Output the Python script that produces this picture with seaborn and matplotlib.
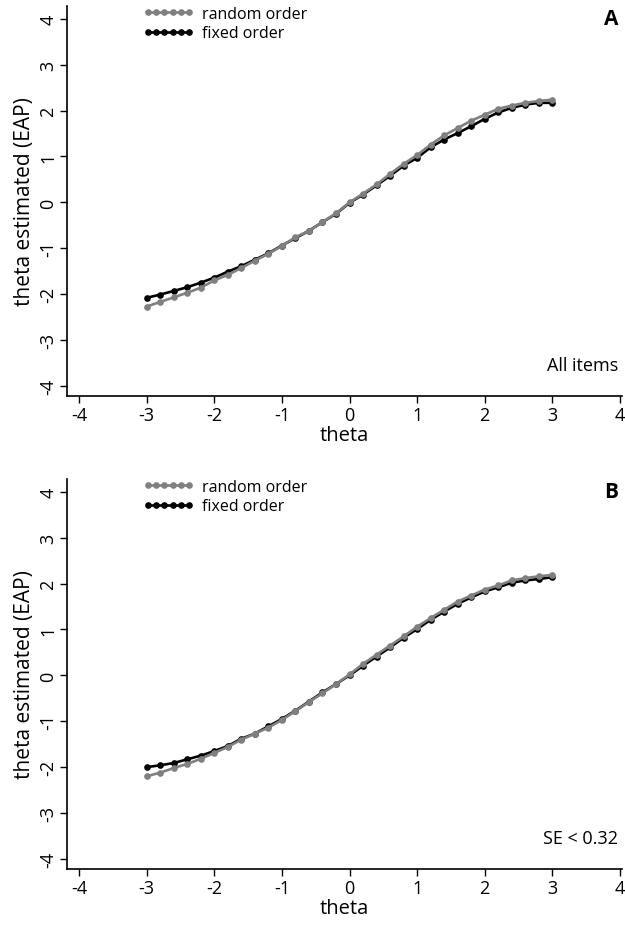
import numpy as np
import pandas as pd
import matplotlib
matplotlib.use("Agg")
import matplotlib.pyplot as plt
import seaborn as sns

theta = [round(-3 + 0.2 * i, 1) for i in range(31)]

a_random = [-2.27, -2.17, -2.07, -1.97, -1.86, -1.70, -1.58, -1.43, -1.27, -1.12,
            -0.95, -0.76, -0.62, -0.43, -0.24, 0.00, 0.19, 0.39, 0.62, 0.84,
            1.03, 1.26, 1.46, 1.62, 1.78, 1.91, 2.04, 2.11, 2.17, 2.21, 2.24]
a_fixed = [-2.08, -2.01, -1.93, -1.85, -1.75, -1.64, -1.51, -1.39, -1.25, -1.11,
           -0.94, -0.78, -0.62, -0.43, -0.25, -0.01, 0.17, 0.37, 0.58, 0.80,
           0.97, 1.20, 1.37, 1.51, 1.66, 1.82, 1.96, 2.06, 2.13, 2.17, 2.17]
b_random = [-2.20, -2.12, -2.02, -1.93, -1.82, -1.69, -1.56, -1.40, -1.27, -1.14,
            -0.97, -0.78, -0.58, -0.39, -0.19, 0.02, 0.25, 0.45, 0.65, 0.85,
            1.06, 1.25, 1.43, 1.61, 1.74, 1.87, 1.96, 2.07, 2.12, 2.16, 2.19]
b_fixed = [-2.00, -1.96, -1.91, -1.83, -1.75, -1.65, -1.54, -1.38, -1.27, -1.11,
           -0.95, -0.77, -0.57, -0.37, -0.19, 0.00, 0.21, 0.41, 0.61, 0.82,
           1.01, 1.21, 1.39, 1.56, 1.70, 1.83, 1.92, 2.02, 2.07, 2.10, 2.14]

series_labels = ["random order", "fixed order"]
panel_letters = ["A", "B"]
panel_notes = ["All items", "SE < 0.32"]
xticks = [-4, -3, -2, -1, 0, 1, 2, 3, 4]
yticks = [-4, -3, -2, -1, 0, 1, 2, 3, 4]

sns.set_style("ticks")
plt.rcParams["font.family"] = ["Open Sans", "DejaVu Sans"]
for key in ["text.color", "axes.labelcolor", "xtick.color", "ytick.color", "axes.edgecolor"]:
    plt.rcParams[key] = "black"

W, H = 625, 928
fig = plt.figure(figsize=(W / 100, H / 100), dpi=100)

def px_axes(left, top, right, bottom):
    return fig.add_axes([left / W, 1 - bottom / H, (right - left) / W, (bottom - top) / H])

panels = [(a_random, a_fixed), (b_random, b_fixed)]
offsets = [0, 473]
GRAY = "#808080"

for k, ((rnd, fix), off) in enumerate(zip(panels, offsets)):
    ax = px_axes(67, 7 + off, 622, 397 + off)
    df = pd.DataFrame({"theta": theta * 2,
                       "est": fix + rnd,
                       "order": ["fixed order"] * 31 + ["random order"] * 31})
    sns.lineplot(data=df[df.order == "fixed order"], x="theta", y="est", ax=ax,
                 color="black", marker="o", markersize=4.8, markeredgewidth=0,
                 linewidth=1.9, zorder=2, label="fixed order")
    sns.lineplot(data=df[df.order == "random order"], x="theta", y="est", ax=ax,
                 color=GRAY, marker="o", markersize=4.8, markeredgewidth=0,
                 linewidth=1.9, zorder=3, label="random order")
    ax.set_xlim(-4.178, 4.03)
    ax.set_ylim(-4.22, 4.28)
    ax.set_xticks(xticks)
    ax.set_yticks(yticks)
    ax.set_xticklabels([str(t) for t in xticks], fontsize=13)
    ax.set_yticklabels([str(t) for t in yticks], fontsize=13, rotation=90, va="center")
    ax.tick_params(length=5, width=1, color="black", pad=2)
    for s in ["top", "right"]:
        ax.spines[s].set_visible(False)
    for s in ["left", "bottom"]:
        ax.spines[s].set_linewidth(1.2)
        ax.spines[s].set_color("black")
    ax.set_xlabel("theta", fontsize=14.5, labelpad=1)
    ax.set_ylabel("theta estimated (EAP)", fontsize=15, labelpad=3)
    h, l = ax.get_legend_handles_labels()
    order = [l.index("random order"), l.index("fixed order")]
    ax.legend([h[i] for i in order], [l[i] for i in order], loc="upper left",
              bbox_to_anchor=(0.137, 1.0), frameon=False, fontsize=11.5,
              numpoints=6, handlelength=3.2, handletextpad=0.5,
              labelspacing=0.2, borderpad=0, borderaxespad=0)
    ax.text(0.993, 0.967, panel_letters[k], transform=ax.transAxes, ha="right",
            va="center", fontsize=15, fontweight="bold")
    ax.text(0.993, 0.079, panel_notes[k], transform=ax.transAxes, ha="right",
            va="center", fontsize=13)

fig.savefig("out.png", dpi=100, facecolor="white")
